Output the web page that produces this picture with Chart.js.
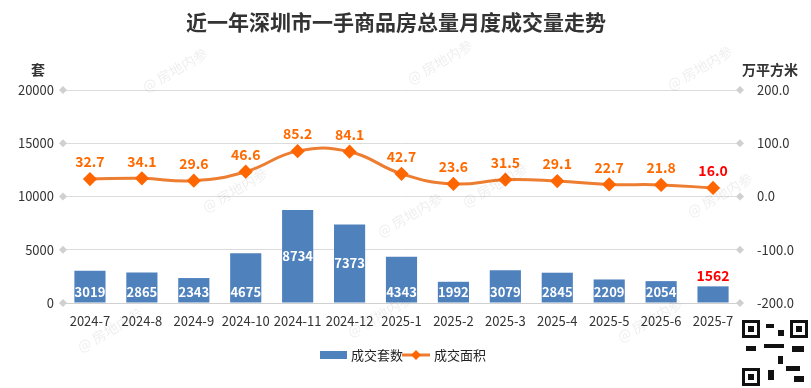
<!DOCTYPE html>
<html>
<head>
<meta charset="utf-8">
<script src="https://cdn.jsdelivr.net/npm/chart.js@4.4.1/dist/chart.umd.min.js"></script>
<style>
  html, body { margin: 0; padding: 0; background: #fff; }
  #wrap { width: 811px; height: 388px; }
</style>
</head>
<body>
<div id="wrap"><canvas id="c" width="811" height="388"></canvas></div>
<script>
// data
const months = ['2024-7', '2024-8', '2024-9', '2024-10', '2024-11', '2024-12', '2025-1',
                '2025-2', '2025-3', '2025-4', '2025-5', '2025-6', '2025-7'];
const units = [3019, 2865, 2343, 4675, 8734, 7373, 4343, 1992, 3079, 2845, 2209, 2054, 1562];
const area = [32.7, 34.1, 29.6, 46.6, 85.2, 84.1, 42.7, 23.6, 31.5, 29.1, 22.7, 21.8, 16.0];

const FONT = '"Noto Sans CJK SC", "Noto Sans", sans-serif';
const BAR = '#4F81BD';
const LINE = '#ED7D31';
const LABEL = '#FF6A00';

// title, axis titles, legend, labels, watermark
const decor = {
    id: 'decor',
    beforeDatasetsDraw(chart) {
        const ctx = chart.ctx;
        const ca = chart.chartArea;
        // diamonds at both ends of the grid lines
        ctx.save();
        ctx.fillStyle = '#d0d0d0';
        chart.scales.y.ticks.forEach((t, i) => {
            const y = chart.scales.y.getPixelForTick(i);
            [ca.left - 1, ca.right + 1].forEach(x => {
                ctx.beginPath();
                ctx.moveTo(x, y - 4); ctx.lineTo(x + 4, y); ctx.lineTo(x, y + 4); ctx.lineTo(x - 4, y);
                ctx.closePath(); ctx.fill();
            });
        });
        ctx.restore();
    },
    afterDatasetsDraw(chart) {
        const ctx = chart.ctx;
        ctx.save();
        // bar labels
        const bars = chart.getDatasetMeta(0).data;
        ctx.textAlign = 'center';
        ctx.textBaseline = 'middle';
        bars.forEach((b, i) => {
            if (i === bars.length - 1) {
                ctx.fillStyle = '#FF0000';
                ctx.font = 'bold 14px ' + FONT;
                ctx.fillText(String(units[i]), b.x, b.y - 11);
            } else {
                ctx.fillStyle = '#fff';
                ctx.font = 'bold 13px ' + FONT;
                const h = b.base - b.y;
                const y = h < 50 ? b.base - 10 : (b.y + b.base) / 2;
                ctx.fillText(String(units[i]), b.x, y);
            }
        });
        // line labels
        const pts = chart.getDatasetMeta(1).data;
        ctx.font = 'bold 14px ' + FONT;
        pts.forEach((p, i) => {
            ctx.fillStyle = i === pts.length - 1 ? '#FF0000' : LABEL;
            ctx.fillText(area[i].toFixed(1), p.x, p.y - 17);
        });

        // watermark
        ctx.font = '14px ' + FONT;
        ctx.fillStyle = 'rgba(0,0,0,0.07)';
        const marks = [[175, 70], [440, 62], [700, 68], [235, 190], [495, 185], [720, 195],
                       [110, 330], [380, 315], [650, 320], [410, 215]];
        marks.forEach(([x, y]) => {
            ctx.save();
            ctx.translate(x, y);
            ctx.rotate(-Math.PI / 6);
            ctx.fillText('@ 房地内参', 0, 0);
            ctx.restore();
        });
        ctx.restore();
    },
    afterDraw(chart) {
        const ctx = chart.ctx;
        ctx.save();
        ctx.fillStyle = '#333';
        ctx.textAlign = 'center';
        ctx.textBaseline = 'middle';
        ctx.font = 'bold 21px ' + FONT;
        ctx.fillText('近一年深圳市一手商品房总量月度成交量走势', 396, 22);
        ctx.font = 'bold 14px ' + FONT;
        ctx.fillText('套', 38, 70);
        ctx.fillText('万平方米', 770, 70);

        // legend
        ctx.font = '13px ' + FONT;
        ctx.textAlign = 'left';
        ctx.fillStyle = BAR;
        ctx.fillRect(320, 351, 27, 8);
        ctx.fillStyle = '#222';
        ctx.fillText('成交套数', 351, 355);
        ctx.strokeStyle = LINE;
        ctx.lineWidth = 3;
        ctx.beginPath(); ctx.moveTo(402, 355); ctx.lineTo(430, 355); ctx.stroke();
        ctx.fillStyle = '#FF6600';
        ctx.beginPath();
        ctx.moveTo(416, 350); ctx.lineTo(421, 355); ctx.lineTo(416, 360); ctx.lineTo(411, 355);
        ctx.closePath(); ctx.fill();
        ctx.fillStyle = '#222';
        ctx.fillText('成交面积', 434, 355);

        // qr code corner
        const qx = 742, qy = 320, qs = 66;
        ctx.fillStyle = '#111';
        [[0, 0], [qs - 18, 0], [0, qs - 18]].forEach(([dx, dy]) => {
            ctx.fillRect(qx + dx, qy + dy, 18, 18);
            ctx.fillStyle = '#fff'; ctx.fillRect(qx + dx + 3, qy + dy + 3, 12, 12);
            ctx.fillStyle = '#111'; ctx.fillRect(qx + dx + 6, qy + dy + 6, 6, 6);
        });
        ctx.fillRect(qx + 24, qy + 4, 8, 4); ctx.fillRect(qx + 36, qy + 10, 6, 6);
        ctx.fillRect(qx + 22, qy + 24, 20, 4); ctx.fillRect(qx + 50, qy + 26, 12, 6);
        ctx.fillRect(qx + 4, qy + 26, 10, 5); ctx.fillRect(qx + 26, qy + 50, 6, 10);
        ctx.fillRect(qx + 44, qy + 46, 14, 5); ctx.fillRect(qx + 52, qy + 56, 10, 6);
        ctx.fillRect(qx + 36, qy + 36, 5, 8);
        ctx.restore();
    }
};

new Chart(document.getElementById('c'), {
    data: {
        labels: months,
        datasets: [
            {
                type: 'bar',
                label: '成交套数',
                data: units,
                yAxisID: 'y',
                backgroundColor: BAR,
                barPercentage: 0.6,
                categoryPercentage: 1,
                order: 2
            },
            {
                type: 'line',
                label: '成交面积',
                data: area,
                yAxisID: 'y1',
                borderColor: LINE,
                borderWidth: 3,
                tension: 0.45,
                pointStyle: 'rectRot',
                pointRadius: 5,
                pointBackgroundColor: '#FF6600',
                pointBorderColor: '#FF6600',
                order: 1
            }
        ]
    },
    options: {
        responsive: false,
        animation: false,
        layout: { padding: { top: 90, bottom: 55, left: 0, right: 0 } },
        plugins: { legend: { display: false }, title: { display: false }, tooltip: { enabled: false } },
        scales: {
            x: {
                grid: { display: false },
                border: { color: '#d0d0d0' },
                ticks: { color: '#333', font: { family: FONT, size: 13 }, padding: 2, maxRotation: 0 },
                afterFit(s) { s.height = 30; }
            },
            y: {
                position: 'left',
                min: 0, max: 20000,
                ticks: { stepSize: 5000, color: '#333', font: { family: FONT, size: 13 }, padding: 10,
                         callback: v => String(v) },
                grid: { color: '#dcdcdc', drawTicks: false },
                border: { display: false },
                afterFit(s) { s.width = 64; }
            },
            y1: {
                position: 'right',
                min: -200, max: 200,
                ticks: { stepSize: 100, color: '#333', font: { family: FONT, size: 13 }, padding: 10,
                         callback: v => v.toFixed(1) },
                grid: { display: false },
                border: { display: false },
                afterFit(s) { s.width = 72; }
            }
        }
    },
    plugins: [decor]
});
</script>
</body>
</html>
